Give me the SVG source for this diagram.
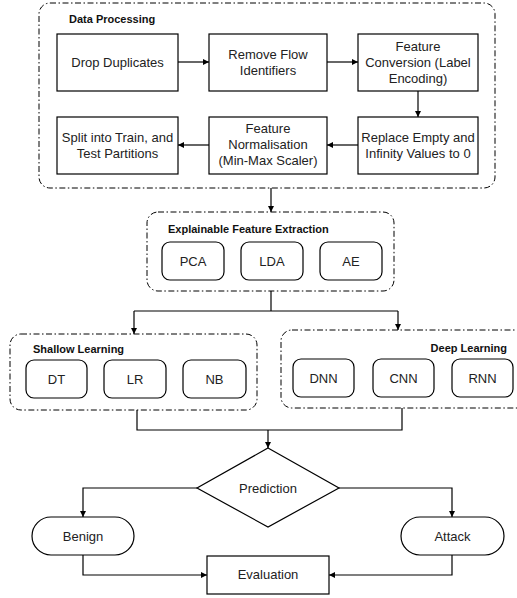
<svg xmlns="http://www.w3.org/2000/svg" width="517" height="598" viewBox="0 0 517 598">
<defs>
<marker id="ah" markerWidth="8" markerHeight="8" refX="6" refY="4" orient="auto" markerUnits="userSpaceOnUse">
<path d="M0,1 L6,4 L0,7 Z" fill="#000"/>
</marker>
<style>
.grp{fill:none;stroke:#000;stroke-width:1;stroke-dasharray:6 2.5 1.5 2.5}
.box{fill:#fff;stroke:#000;stroke-width:1.2}
.t{font-family:"Liberation Sans",Arial,sans-serif;font-size:13px;fill:#222;text-anchor:middle}
.b{font-family:"Liberation Sans",Arial,sans-serif;font-size:11px;font-weight:bold;fill:#111}
.c{fill:none;stroke:#000;stroke-width:1.2}
.ca{fill:none;stroke:#000;stroke-width:1.2;marker-end:url(#ah)}
</style>
</defs>
<rect width="517" height="598" fill="#fff"/>

<g id="data-processing">
<rect class="grp" x="39" y="3" width="456" height="185" rx="11"/>
<text class="b" x="69" y="23">Data Processing</text>
</g>
<g id="drop-duplicates">
<rect class="box" x="57" y="34" width="121" height="57"/>
<text class="t" x="117.5" y="66.5">Drop Duplicates</text>
</g>
<g id="remove-flow">
<rect class="box" x="209" y="34" width="118" height="57"/>
<text class="t" x="268" y="58.5">Remove Flow</text>
<text class="t" x="268" y="74.5">Identifiers</text>
</g>
<g id="feature-conversion">
<rect class="box" x="358" y="34" width="120" height="57"/>
<text class="t" x="418" y="50.5">Feature</text>
<text class="t" x="418" y="66.5">Conversion (Label</text>
<text class="t" x="418" y="82.5">Encoding)</text>
</g>
<g id="replace-empty">
<rect class="box" x="358" y="117" width="120" height="57"/>
<text class="t" x="418" y="141.5">Replace Empty and</text>
<text class="t" x="418" y="157.5">Infinity Values to 0</text>
</g>
<g id="feature-normalisation">
<rect class="box" x="209" y="117" width="118" height="57"/>
<text class="t" x="268" y="132.5">Feature</text>
<text class="t" x="268" y="148.5">Normalisation</text>
<text class="t" x="268" y="164.5">(Min-Max Scaler)</text>
</g>
<g id="split">
<rect class="box" x="57" y="117" width="121" height="57"/>
<text class="t" x="117.5" y="141.5">Split into Train, and</text>
<text class="t" x="117.5" y="157.5">Test Partitions</text>
</g>

<g id="feature-extraction">
<rect class="grp" x="147" y="212" width="247" height="79" rx="11"/>
<text class="b" x="168" y="233">Explainable Feature Extraction</text>
</g>
<g id="pca">
<rect class="box" x="162" y="242" width="62" height="38" rx="8"/>
<text class="t" x="193" y="265.5">PCA</text>
</g>
<g id="lda">
<rect class="box" x="241" y="242" width="62" height="38" rx="8"/>
<text class="t" x="272" y="265.5">LDA</text>
</g>
<g id="ae">
<rect class="box" x="320" y="242" width="62" height="38" rx="8"/>
<text class="t" x="351" y="265.5">AE</text>
</g>

<g id="shallow-learning">
<rect class="grp" x="10" y="334" width="247" height="76" rx="11"/>
<text class="b" x="33" y="353">Shallow Learning</text>
</g>
<g id="dt">
<rect class="box" x="26" y="360" width="61" height="38" rx="8"/>
<text class="t" x="56.5" y="383.5">DT</text>
</g>
<g id="lr">
<rect class="box" x="104" y="360" width="62" height="38" rx="8"/>
<text class="t" x="135" y="383.5">LR</text>
</g>
<g id="nb">
<rect class="box" x="183" y="360" width="63" height="38" rx="8"/>
<text class="t" x="214.5" y="383.5">NB</text>
</g>

<g id="deep-learning">
<rect class="grp" x="281" y="330" width="250" height="78" rx="11"/>
<text class="b" x="507" y="352" text-anchor="end">Deep Learning</text>
</g>
<g id="dnn">
<rect class="box" x="293" y="359" width="61" height="38" rx="8"/>
<text class="t" x="323.5" y="382.5">DNN</text>
</g>
<g id="cnn">
<rect class="box" x="373" y="359" width="61" height="38" rx="8"/>
<text class="t" x="403.5" y="382.5">CNN</text>
</g>
<g id="rnn">
<rect class="box" x="452" y="359" width="61" height="38" rx="8"/>
<text class="t" x="482.5" y="382.5">RNN</text>
</g>

<g id="prediction">
<polygon class="box" points="268,448 339,488 268,527 197,488"/>
<text class="t" x="268" y="492.5">Prediction</text>
</g>
<g id="benign">
<rect class="box" x="32" y="517" width="102" height="38" rx="19"/>
<text class="t" x="83" y="540.5">Benign</text>
</g>
<g id="attack">
<rect class="box" x="401" y="517" width="103" height="38" rx="19"/>
<text class="t" x="452.5" y="540.5">Attack</text>
</g>
<g id="evaluation">
<rect class="box" x="207" y="556" width="122" height="38"/>
<text class="t" x="268" y="579">Evaluation</text>
</g>

<g id="connectors">
<path class="ca" d="M178,62 H209"/>
<path class="ca" d="M327,62 H358"/>
<path class="ca" d="M418,91 V117"/>
<path class="ca" d="M358,145 H327"/>
<path class="ca" d="M209,145 H178"/>
<path class="ca" d="M271,188 V212"/>
<path class="c" d="M271,291 V311"/>
<path class="c" d="M134,311 H398"/>
<path class="ca" d="M134,311 V334"/>
<path class="ca" d="M398,311 V330"/>
<path class="c" d="M137,410 V430 H402 V408"/>
<path class="ca" d="M268,430 V448"/>
<path class="ca" d="M197,488 H83 V517"/>
<path class="ca" d="M339,488 H452 V517"/>
<path class="ca" d="M83,555 V575 H207"/>
<path class="ca" d="M452,555 V575 H329"/>
</g>
</svg>
